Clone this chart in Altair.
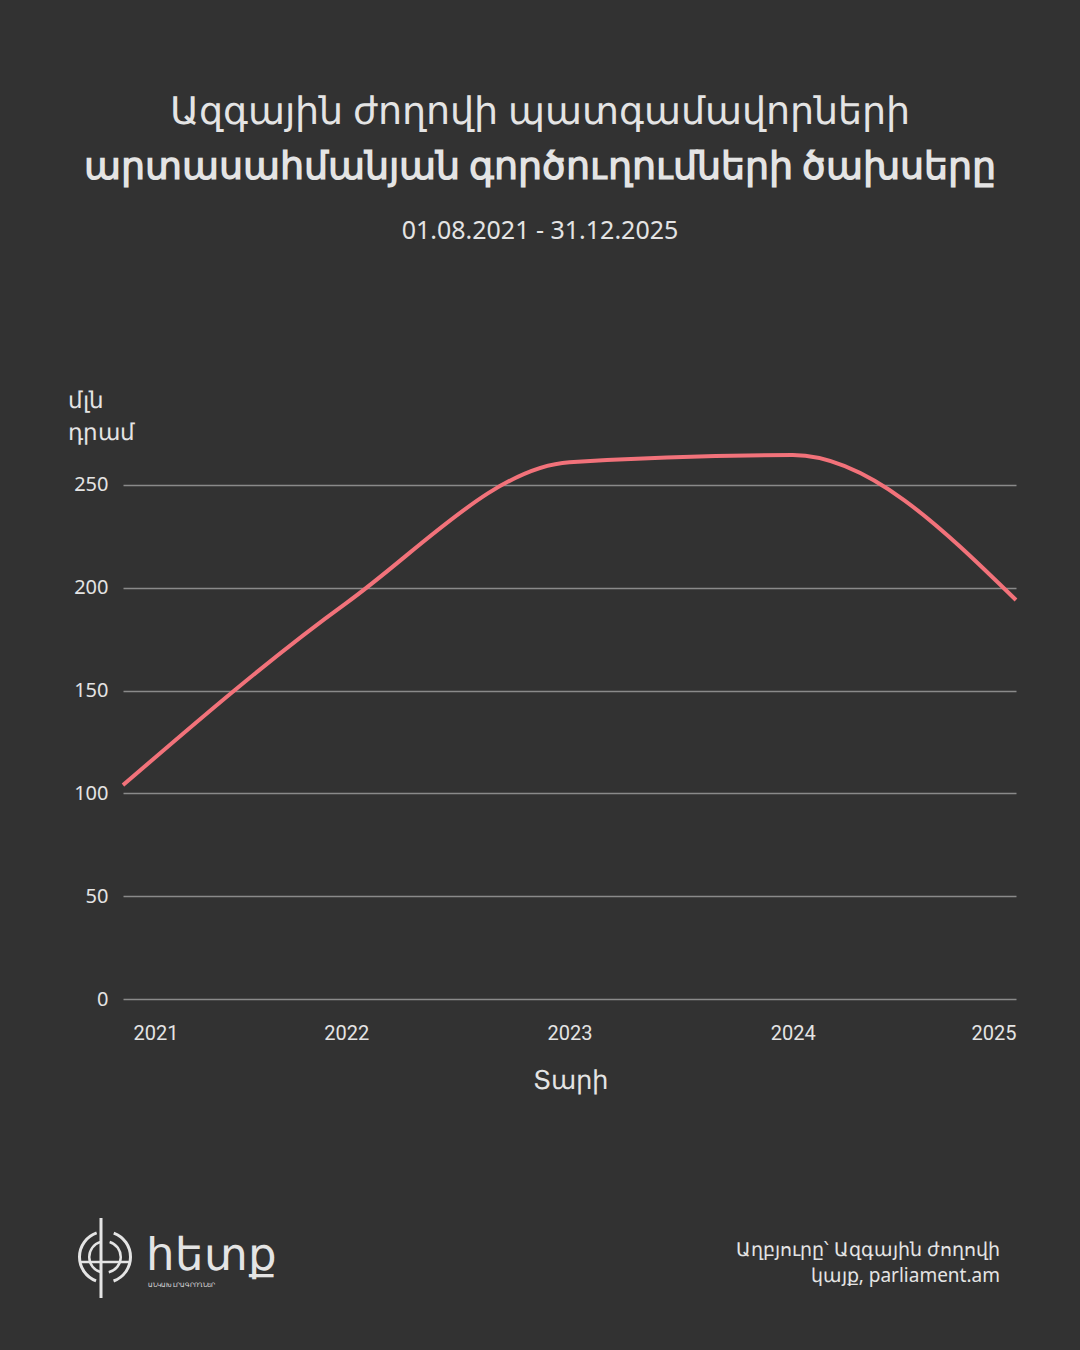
import altair as alt
import pandas as pd

years = [2021, 2022, 2023, 2024, 2025]
values = [104, 192.5, 261, 264.5, 194]
y_ticks = [0, 50, 100, 150, 200, 250]

BG = "#323232"
TXT = "#e4e4e4"
LINE = "#f2727a"
FONT = "Noto Sans"

# plot origin in page pixels
OX, OY = 123, 454
W, H = 893, 545

df = pd.DataFrame({"year": years, "value": values})
one = pd.DataFrame({"a": [0]})

line = alt.Chart(df).mark_line(color=LINE, strokeWidth=4, interpolate="monotone").encode(
    x=alt.X("year:Q",
            scale=alt.Scale(domain=[2021, 2025], nice=False, zero=False),
            axis=alt.Axis(values=years, format="d", title="Տարի", grid=False, domain=False,
                          ticks=False, labelPadding=24, labelFontSize=20, labelColor=TXT,
                          labelFont="Roboto", labelFlush=True,
                          labelOffset={"condition": {"test": "datum.value == 2021", "value": 10}, "value": 0},
                          titleFontSize=26, titleFont=FONT, titleFontWeight="normal",
                          titleColor=TXT, titlePadding=24)),
    y=alt.Y("value:Q",
            scale=alt.Scale(domain=[0, 265], nice=False),
            axis=alt.Axis(values=y_ticks, title=None, domain=False, ticks=False,
                          labelPadding=15, labelFontSize=20, labelColor=TXT, labelFont=FONT,
                          grid=True, gridColor="#8a8a8a", gridWidth=1.5)),
)

def txt(s, x, y, size, weight="normal", align="center", font=FONT, color=TXT,
        baseline="middle"):
    return alt.Chart(one).mark_text(
        text=s, fontSize=size, fontWeight=weight, align=align, baseline=baseline,
        font=font, color=color
    ).encode(x=alt.value(x - OX), y=alt.value(y - OY))

texts = [
    txt("Ազգային ժողովի պատգամավորների", 540, 113, 37.5, weight=300),
    txt("արտասահմանյան գործուղումների ծախսերը", 540, 168, 37.5, weight="bold"),
    txt("01.08.2021 - 31.12.2025", 540, 231, 25),
    txt("մլն", 68, 401, 22.5, align="left"),
    txt("դրամ", 68, 433, 22.5, align="left"),
    txt("հետք", 146, 1256, 45, align="left"),
    txt("ԱՆԿԱԽ ԼՐԱԳՐՈՂՆԵՐ", 148, 1285, 5.5, align="left"),
    txt("Աղբյուրը՝ Ազգային ժողովի", 1000, 1250, 19, align="right"),
    txt("կայք, parliament.am", 1000, 1276, 19, align="right"),
]

# simple logo glyph
C = (105 - OX, 1257 - OY)
def arc(r1, r2, t1, t2):
    return alt.Chart(one).mark_arc(radius=r1, radius2=r2, color=TXT).encode(
        x=alt.value(C[0]), y=alt.value(C[1]),
        theta=alt.value(t1), theta2=alt.value(t2))

ring = arc(27, 24, 0.35, 2.8)
ring2 = arc(27, 24, 3.5, 5.95)
ring3 = arc(17, 14.5, 0.3, 2.9)
ring4 = arc(17, 14.5, 3.4, 6.0)
stem = alt.Chart(one).mark_rule(color=TXT, strokeWidth=3).encode(
    x=alt.value(101 - OX), y=alt.value(1218 - OY), y2=alt.value(1298 - OY))
bar = alt.Chart(one).mark_rule(color=TXT, strokeWidth=2.5).encode(
    x=alt.value(80 - OX), x2=alt.value(130 - OX), y=alt.value(1262 - OY))

chart = alt.layer(line, *texts, ring, ring2, ring3, ring4, stem, bar).properties(
    width=W, height=H,
    background=BG,
    padding={"left": OX, "top": OY, "right": 1080 - OX - W, "bottom": 1350 - OY - H},
    autosize=alt.AutoSizeParams(type="none"),
).configure_view(stroke=None)

chart.save("out.html", embed_options={"renderer": "svg", "actions": False})
